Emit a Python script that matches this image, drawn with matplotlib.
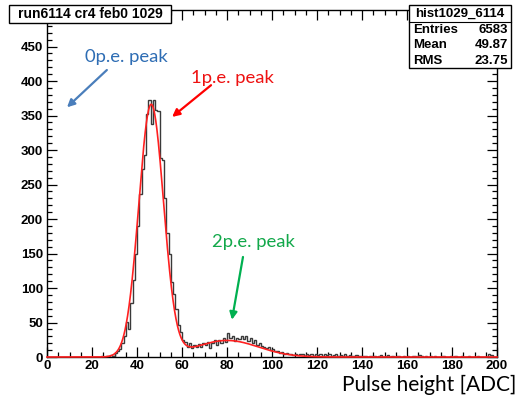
import numpy as np
import matplotlib
matplotlib.use('Agg')
import matplotlib.pyplot as plt
from matplotlib.patches import Rectangle
from matplotlib.ticker import MultipleLocator, FixedLocator

# ADC bin counts, 1 ADC per bin, bins 0..199
counts = [0] * 24 + [
    1, 0, 2, 1, 3, 2, 6, 9, 12, 21,            # 24-33
    30, 51, 40, 78, 112, 150, 190, 236, 272, 293,  # 34-43
    352, 373, 338, 373, 358, 357, 288, 286, 230, 180,  # 44-53
    150, 108, 92, 70, 47, 36, 24, 22, 15, 20,   # 54-63
    13, 17, 14, 19, 15, 21, 17, 22, 13, 20,     # 64-73
    24, 18, 25, 21, 27, 22, 35, 27, 30, 23,     # 74-83
    28, 26, 31, 26, 30, 23, 27, 21, 24, 18,     # 84-93
    20, 16, 15, 13, 14, 10, 11, 8, 9, 6,        # 94-103
    7, 5, 6, 4, 5, 3, 5, 3, 4, 4,               # 104-113
    2, 5, 3, 4, 2, 5, 3, 4, 2, 4,               # 114-123
    3, 5, 2, 3, 4, 2, 3, 2, 4, 1,               # 124-133
    3, 2, 1, 3, 2, 1, 2, 1, 0, 2,               # 134-143
    1, 1, 0, 2, 3, 0, 1, 3, 0, 1,               # 144-153
    0, 2, 1, 0, 1, 0, 1, 0, 2, 1,               # 154-163
    0, 3, 1, 0, 1, 0, 2, 0, 1, 0,               # 164-173
    0, 2, 1, 0, 0, 1, 0, 1, 0, 0,               # 174-183
    1, 0, 0, 1, 0, 0, 0, 1, 0, 0,               # 184-193
    0, 0, 4, 3, 0, 0,                           # 194-199
]
edges = np.arange(0, 201)

# two-gaussian fit: (amplitude, mean, sigma) for 1p.e. and 2p.e.
fit_1pe = (365.0, 46.3, 5.5)
fit_2pe = (24.0, 80.0, 14.0)

hist_name = "hist1029_6114"
stats = [("Entries", "6583"), ("Mean", "49.87"), ("RMS", "23.75")]
title = "run6114 cr4 feb0 1029"
y_labels = [0, 50, 100, 150, 200, 250, 300, 350, 400, 450]


def gaus(x, a, m, s):
    return a * np.exp(-0.5 * ((x - m) / s) ** 2)


W, H = 518, 401
fig = plt.figure(figsize=(W / 100, H / 100), dpi=100)
fig.patch.set_facecolor('white')
ax = fig.add_axes([47 / W, (H - 357) / H, 450 / W, 347 / H])

ax.stairs(counts, edges, color='#3a3a3a', lw=1.0, zorder=3)
xf = np.linspace(0, 200, 1201)
yf = gaus(xf, *fit_1pe) + gaus(xf, *fit_2pe)
ax.plot(xf, yf, color='#ff2020', lw=1.2, zorder=4, clip_on=False)

ax.set_xlim(0, 200)
ax.set_ylim(0, 503)
ax.xaxis.set_major_locator(MultipleLocator(20))
ax.xaxis.set_minor_locator(MultipleLocator(5))
ax.yaxis.set_major_locator(FixedLocator(y_labels))
ax.yaxis.set_minor_locator(MultipleLocator(10))
ax.tick_params(which='both', direction='in', top=True, right=True, width=0.9)
ax.tick_params(which='major', length=7)
ax.tick_params(which='minor', length=3.5)
ax.tick_params(axis='x', pad=2)
ax.tick_params(axis='y', pad=3)
for lab in ax.get_xticklabels() + ax.get_yticklabels():
    lab.set_fontfamily('Liberation Sans')
    lab.set_fontweight('bold')
    lab.set_fontsize(9.5)
for sp in ax.spines.values():
    sp.set_linewidth(1.0)

fig.text(516 / W, 1 - 385 / H, "Pulse height [ADC]", fontfamily='Lato', fontsize=15,
         ha='right', va='center')

# peak annotations
notes = [
    ("0p.e. peak", '#2e6db4', '#4a7ebb', (35.1, 435), (26.6, 416), (8.9, 362)),
    ("1p.e. peak", '#ee1111', '#ff0000', (82.2, 404), (72.9, 394), (55.6, 348)),
    ("2p.e. peak", '#12a84a', '#00b050', (91.6, 167), (87.1, 145), (82.2, 54)),
]
for txt, tcol, acol, tpos, tail, tip in notes:
    ax.text(tpos[0], tpos[1], txt, color=tcol, fontfamily='Lato', fontsize=13.3,
            ha='center', va='center', zorder=6)
    ax.annotate('', xy=tip, xytext=tail,
                arrowprops=dict(arrowstyle='-|>', color=acol, lw=1.6,
                                mutation_scale=11, shrinkA=0, shrinkB=0),
                zorder=6)

# title box
fig.add_artist(Rectangle((9 / W, 1 - 23 / H), 162 / W, 18 / H, transform=fig.transFigure,
                         facecolor='white', edgecolor='black', lw=1.0, zorder=10))
fig.text(90 / W, 1 - 14 / H, title, ha='center', va='center', fontfamily='Liberation Sans',
         fontweight='bold', fontsize=10, zorder=11)

# stats box
fig.add_artist(Rectangle((409 / W, 1 - 68 / H), 102 / W, 63 / H, transform=fig.transFigure,
                         facecolor='white', edgecolor='black', lw=1.0, zorder=10))
fig.add_artist(plt.Line2D([409 / W, 511 / W], [1 - 22 / H, 1 - 22 / H],
                          transform=fig.transFigure, color='black', lw=0.8, zorder=11))
fig.text(460 / W, 1 - 13.5 / H, hist_name, ha='center', va='center',
         fontfamily='Liberation Sans', fontweight='bold', fontsize=9.5, zorder=11)
for i, (k, v) in enumerate(stats):
    yy = 1 - (30 + 15.5 * i) / H
    fig.text(413 / W, yy, k, ha='left', va='center', fontfamily='Liberation Sans',
             fontweight='bold', fontsize=9.5, zorder=11)
    fig.text(508 / W, yy, v, ha='right', va='center', fontfamily='Liberation Sans',
             fontweight='bold', fontsize=9.5, zorder=11)

fig.savefig('out.png', dpi=100)
